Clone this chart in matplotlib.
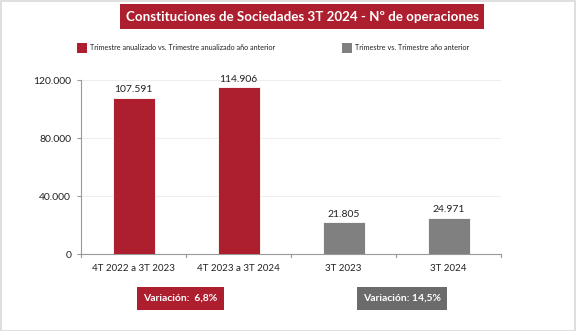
import matplotlib
matplotlib.use("Agg")
import matplotlib.pyplot as plt
from matplotlib.patches import Rectangle

plt.rcParams['font.family'] = ['Lato', 'DejaVu Sans']

categories = ['4T 2022 a 3T 2023', '4T 2023 a 3T 2024', '3T 2023', '3T 2024']
values = [107591, 114906, 21805, 24971]
bar_colors = ['#ad1e2e', '#ad1e2e', '#808080', '#808080']
yticks = [0, 40000, 80000, 120000]
legend_labels = ['Trimestre anualizado vs. Trimestre anualizado año anterior',
                 'Trimestre vs. Trimestre año anterior']
variations = ['Variación:  6,8%', 'Variación: 14,5%']

RED = '#ad1e2e'
GRAY = '#808080'
DARKGRAY = '#6b6b6b'

W, H = 578, 331
fig = plt.figure(figsize=(W / 100, H / 100), dpi=100)

def fx(px):
    return px / W

def fy(py):
    return 1 - py / H

# outer frame
fig.patches.append(Rectangle((0.002, 0.0), 0.992, 0.997, transform=fig.transFigure,
                             fill=False, edgecolor='#d9d9d9', linewidth=1.2))

ax = fig.add_axes([fx(81), fy(254), fx(501) - fx(81), fy(80) - fy(254)])
x = range(len(categories))
bars = ax.bar(x, values, width=0.4, color=bar_colors, edgecolor='white', linewidth=0.6, zorder=3)
for b, v in zip(bars, values):
    s = f"{v:,}".replace(',', '.')
    ax.text(b.get_x() + b.get_width() / 2, v + 2500, s, ha='center', va='bottom',
            fontsize=7.5, color='#222222')

ax.set_xlim(-0.5, len(categories) - 0.5)
ax.set_ylim(0, 120000)
ax.set_yticks(yticks)
ax.set_yticklabels([f"{t:,}".replace(',', '.') for t in yticks], fontsize=7.5, color='#222222')
ax.set_xticks(list(x))
ax.set_xticklabels(categories, fontsize=7, color='#222222')
ax.tick_params(axis='x', length=0, pad=7)
ax.tick_params(axis='y', length=3, color='#999999', pad=4)
for b in [-0.5, 0.5, 1.5, 2.5, 3.5]:
    ax.plot([b, b], [0, -2200], color='#999999', linewidth=0.8, clip_on=False)
ax.grid(axis='y', color='#eeeeee', linewidth=0.8, zorder=0)
for sp in ['top', 'right']:
    ax.spines[sp].set_visible(False)
ax.spines['left'].set_color('#999999')
ax.spines['bottom'].set_color('#999999')

# title
fig.patches.append(Rectangle((fx(120), fy(29)), fx(484) - fx(120), fy(4) - fy(29),
                             transform=fig.transFigure, facecolor=RED, edgecolor='none'))
fig.text(fx(302), fy(17), 'Constituciones de Sociedades 3T 2024 - Nº de operaciones',
         ha='center', va='center', color='white', fontsize=9.6, fontweight='bold')

# legend
for sx, col, lab in [(77, RED, legend_labels[0]), (342, GRAY, legend_labels[1])]:
    fig.patches.append(Rectangle((fx(sx), fy(53)), fx(10), fy(43) - fy(53),
                                 transform=fig.transFigure, facecolor=col, edgecolor='none'))
    fig.text(fx(sx + 13), fy(48), lab, ha='left', va='center', fontsize=5.2, color='#222222')

# variation boxes
for (x0, x1), col, lab in [((137, 224), RED, variations[0]), ((357, 447), DARKGRAY, variations[1])]:
    fig.patches.append(Rectangle((fx(x0), fy(310)), fx(x1 - x0), fy(287) - fy(310),
                                 transform=fig.transFigure, facecolor=col, edgecolor='none'))
    fig.text(fx((x0 + x1) / 2), fy(298.5), lab, ha='center', va='center',
             color='white', fontsize=7.5, fontweight='bold')

fig.savefig('out.png', dpi=100)
